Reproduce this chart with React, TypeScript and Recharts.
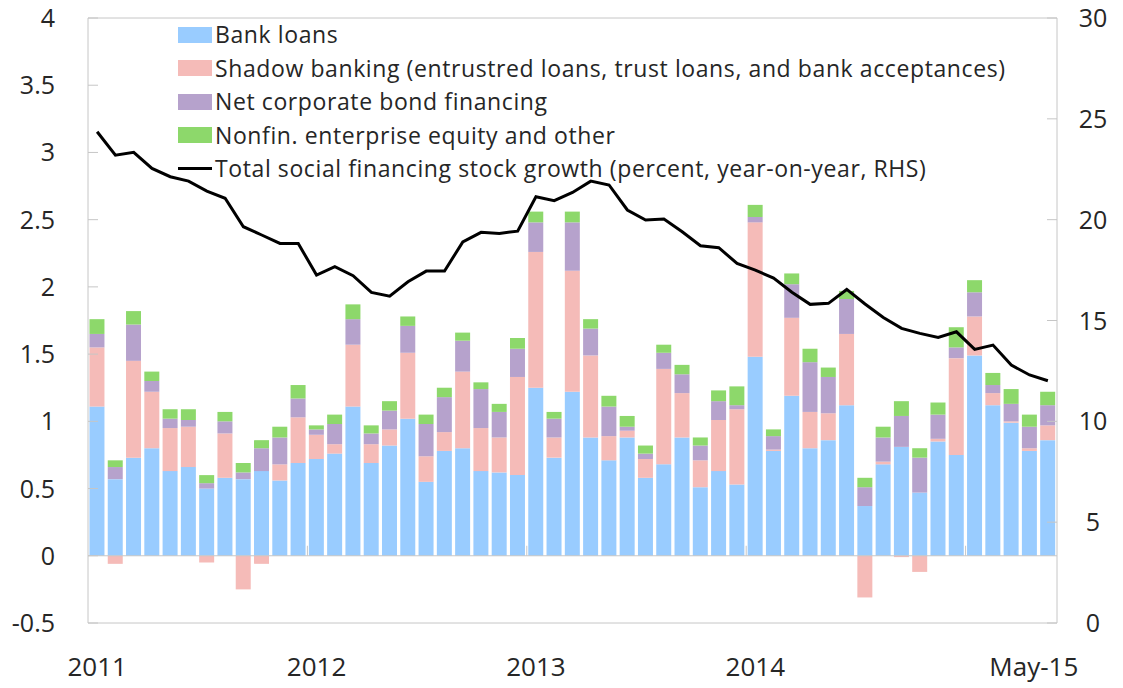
import {
  ComposedChart,
  Bar,
  Line,
  XAxis,
  YAxis,
  ReferenceLine,
  Legend,
} from 'recharts';

const YEARS = ['11', '12', '13', '14', '15'];
const MONTH_NAMES = ['Jan', 'Feb', 'Mar', 'Apr', 'May', 'Jun', 'Jul', 'Aug', 'Sep', 'Oct', 'Nov', 'Dec'];
// Jan-11 .. May-15
const MONTHS = YEARS.flatMap((y) => MONTH_NAMES.map((m) => `${m}-${y}`)).slice(0, 53);

const BANK_LOANS = [
  1.11, 0.57, 0.73, 0.8, 0.63, 0.66, 0.5, 0.58, 0.57, 0.63, 0.56, 0.69,
  0.72, 0.76, 1.11, 0.69, 0.82, 1.02, 0.55, 0.78, 0.8, 0.63, 0.62, 0.6,
  1.25, 0.73, 1.22, 0.88, 0.71, 0.88, 0.58, 0.68, 0.88, 0.51, 0.63, 0.53,
  1.48, 0.78, 1.19, 0.8, 0.86, 1.12, 0.37, 0.68, 0.81, 0.47, 0.85, 0.75,
  1.49, 1.12, 0.99, 0.78, 0.86,
];

const SHADOW_BANKING = [
  0.44, -0.06, 0.72, 0.42, 0.32, 0.3, -0.05, 0.33, -0.25, -0.06, 0.12, 0.34,
  0.18, 0.07, 0.46, 0.14, 0.12, 0.49, 0.19, 0.14, 0.57, 0.32, 0.26, 0.73,
  1.01, 0.15, 0.9, 0.61, 0.18, 0.05, 0.14, 0.71, 0.33, 0.2, 0.38, 0.56,
  1.0, 0.01, 0.58, 0.27, 0.2, 0.53, -0.31, 0.02, -0.01, -0.12, 0.02, 0.72,
  0.29, 0.09, 0.01, 0.02, 0.11,
];

const BOND_FINANCING = [
  0.1, 0.09, 0.27, 0.08, 0.07, 0.05, 0.04, 0.09, 0.05, 0.17, 0.2, 0.14,
  0.04, 0.15, 0.19, 0.08, 0.14, 0.2, 0.24, 0.26, 0.23, 0.29, 0.19, 0.21,
  0.22, 0.14, 0.36, 0.2, 0.22, 0.03, 0.04, 0.12, 0.14, 0.11, 0.14, 0.03,
  0.04, 0.1, 0.25, 0.37, 0.27, 0.26, 0.14, 0.18, 0.23, 0.26, 0.18, 0.08,
  0.18, 0.06, 0.13, 0.16, 0.15,
];

const EQUITY_OTHER = [
  0.11, 0.05, 0.1, 0.07, 0.07, 0.08, 0.06, 0.07, 0.07, 0.06, 0.08, 0.1,
  0.03, 0.07, 0.11, 0.06, 0.07, 0.07, 0.07, 0.07, 0.06, 0.05, 0.06, 0.08,
  0.08, 0.05, 0.08, 0.07, 0.08, 0.08, 0.06, 0.06, 0.07, 0.06, 0.08, 0.14,
  0.09, 0.05, 0.08, 0.1, 0.07, 0.06, 0.07, 0.08, 0.11, 0.07, 0.09, 0.15,
  0.09, 0.09, 0.11, 0.09, 0.1,
];

// percent, y/y, right axis
const TSF_GROWTH = [
  24.36, 23.2, 23.34, 22.54, 22.13, 21.91, 21.42, 21.06, 19.65, 19.24, 18.82, 18.82,
  17.25, 17.67, 17.22, 16.39, 16.21, 16.92, 17.45, 17.45, 18.9, 19.37, 19.32, 19.43,
  21.14, 20.94, 21.35, 21.91, 21.72, 20.48, 19.98, 20.03, 19.4, 18.71, 18.61, 17.83,
  17.5, 17.1, 16.4, 15.8, 15.85, 16.54, 15.82, 15.15, 14.61, 14.36, 14.16, 14.44,
  13.57, 13.78, 12.79, 12.3, 12.01,
];

const X_TICKS = ['Jan-11', 'Jan-12', 'Jan-13', 'Jan-14', 'May-15'];
const X_TICK_LABELS = ['2011', '2012', '2013', '2014', 'May-15'];
const LEFT_TICKS = [-0.5, 0, 0.5, 1, 1.5, 2, 2.5, 3, 3.5, 4];
const RIGHT_TICKS = [0, 5, 10, 15, 20, 25, 30];

const SERIES = [
  { key: 'bank', name: 'Bank loans', color: '#99ccff' },
  { key: 'shadow', name: 'Shadow banking (entrustred loans, trust loans, and bank acceptances)', color: '#f5bbb8' },
  { key: 'bond', name: 'Net corporate bond financing', color: '#b6a2cc' },
  { key: 'equity', name: 'Nonfin. enterprise equity and other', color: '#8dd86b' },
];
const LINE_NAME = 'Total social financing stock growth (percent, year-on-year, RHS)';

const FRAME = '#c6c6c6';
const FONT = '"Open Sans", sans-serif';
const TEXT = '#262626';
const INNER_TICK = 10;

const data = MONTHS.map((month, i) => ({
  month,
  bank: BANK_LOANS[i],
  shadow: SHADOW_BANKING[i],
  bond: BOND_FINANCING[i],
  equity: EQUITY_OTHER[i],
  growth: TSF_GROWTH[i],
}));

const yearStarts = MONTHS.map((m, i) => (i > 0 && m.startsWith('Jan') ? i : -1)).filter((i) => i > 0);

function LeftTick({ x, y, payload }: any) {
  return (
    <g>
      <line x1={x + 33} x2={x + 33 + INNER_TICK} y1={y} y2={y} stroke={FRAME} />
      <text x={x} y={y} dy="0.36em" textAnchor="end" fontSize={25} fill={TEXT} fontFamily={FONT}>
        {payload.value}
      </text>
    </g>
  );
}

function RightTick({ x, y, payload }: any) {
  return (
    <g>
      <line x1={x - 36} x2={x - 36 - INNER_TICK} y1={y} y2={y} stroke={FRAME} />
      <text x={x} y={y} dy="0.36em" textAnchor="middle" fontSize={25} fill={TEXT} fontFamily={FONT}>
        {payload.value}
      </text>
    </g>
  );
}

function BottomTick({ x, y, payload }: any) {
  const idx = X_TICKS.indexOf(payload.value);
  // last label sits a little left of its bar, as in the source
  const shift = idx === X_TICKS.length - 1 ? -14 : 0;
  return (
    <text x={x + shift} y={y + 42} dy="0.36em" textAnchor="middle" fontSize={26} fill={TEXT} fontFamily={FONT}>
      {X_TICK_LABELS[idx]}
    </text>
  );
}

function ZeroLine({ x1, x2, y1 }: any) {
  const band = (x2 - x1) / MONTHS.length;
  return (
    <g>
      <line x1={x1} x2={x2} y1={y1} y2={y1} stroke={FRAME} />
      {yearStarts.map((i) => (
        <line key={i} x1={x1 + band * i} x2={x1 + band * i} y1={y1} y2={y1 - 10} stroke={FRAME} />
      ))}
    </g>
  );
}

function LegendBox() {
  const row = { display: 'flex', alignItems: 'center', height: 33.5 } as const;
  return (
    <div style={{ fontFamily: FONT, fontSize: 23, color: TEXT, lineHeight: 1, letterSpacing: '0.6px' }}>
      {SERIES.map((s) => (
        <div key={s.key} style={row}>
          <span style={{ width: 34, height: 16, background: s.color, marginRight: 3 }} />
          <span>{s.name}</span>
        </div>
      ))}
      <div style={row}>
        <span style={{ width: 34, height: 3, background: '#000', marginRight: 3 }} />
        <span>{LINE_NAME}</span>
      </div>
    </div>
  );
}

export default function App() {
  return (
    <div style={{ position: 'absolute', left: 0, top: 0, background: '#fff' }}>
      <ComposedChart
        width={1123}
        height={688}
        data={data}
        stackOffset="sign"
        barCategoryGap="8%"
        margin={{ top: 18, right: 0, bottom: 0, left: 0 }}
      >
        <XAxis
          dataKey="month"
          ticks={X_TICKS}
          interval={0}
          height={65}
          tickSize={0}
          tickLine={false}
          axisLine={{ stroke: FRAME }}
          tick={<BottomTick />}
        />
        <YAxis
          yAxisId="left"
          domain={[-0.5, 4]}
          ticks={LEFT_TICKS}
          width={88}
          tickSize={0}
          tickMargin={33}
          tickLine={false}
          axisLine={{ stroke: FRAME }}
          tick={<LeftTick />}
        />
        <YAxis
          yAxisId="right"
          orientation="right"
          domain={[0, 30]}
          ticks={RIGHT_TICKS}
          width={66}
          tickSize={0}
          tickMargin={36}
          tickLine={false}
          axisLine={{ stroke: FRAME }}
          tick={<RightTick />}
        />
        <ReferenceLine yAxisId="left" y={4} stroke={FRAME} />
        {SERIES.map((s) => (
          <Bar
            key={s.key}
            yAxisId="left"
            dataKey={s.key}
            name={s.name}
            stackId="tsf"
            fill={s.color}
            isAnimationActive={false}
          />
        ))}
        <ReferenceLine yAxisId="left" y={0} shape={<ZeroLine />} />
        <Line
          yAxisId="right"
          type="linear"
          dataKey="growth"
          name={LINE_NAME}
          stroke="#000"
          strokeWidth={3}
          dot={false}
          activeDot={false}
          isAnimationActive={false}
        />
        <Legend
          layout="vertical"
          align="center"
          verticalAlign="middle"
          content={<LegendBox />}
          wrapperStyle={{ left: 178, top: 18, width: 'auto' }}
        />
      </ComposedChart>
    </div>
  );
}
